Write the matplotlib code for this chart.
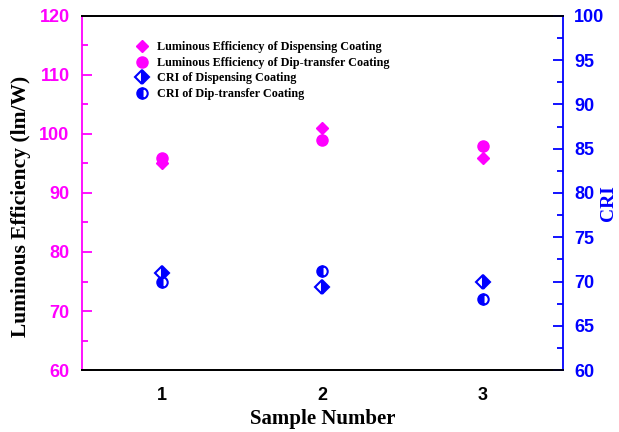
import matplotlib
matplotlib.use("Agg")
import matplotlib.pyplot as plt
from matplotlib.ticker import MultipleLocator

samples = [1, 2, 3]
le_dispensing = [95, 101, 96]
le_dip = [96, 99, 98]
cri_dispensing = [71, 69.4, 70]
cri_dip = [70, 71.2, 68]

MAG = "#ff00ff"
BLU = "#0000ff"
serif = "Liberation Serif"
sans = "Liberation Sans"

fig = plt.figure(figsize=(6.19, 4.32), dpi=100)
ax = fig.add_axes([0.1325, 0.1435, 0.777, 0.8195])
ax2 = ax.twinx()

h1, = ax.plot(samples, le_dispensing, ls="none", marker="D", ms=6.5, color=MAG,
              label="Luminous Efficiency of Dispensing Coating")
h2, = ax.plot(samples, le_dip, ls="none", marker="o", ms=8, color=MAG,
              label="Luminous Efficiency of Dip-transfer Coating")
h3, = ax2.plot(samples, cri_dispensing, ls="none", marker="D", ms=7, color=BLU,
               fillstyle="right", markerfacecoloralt="white", mew=1.5,
               label="CRI of Dispensing Coating")
h4, = ax2.plot(samples, cri_dip, ls="none", marker="o", ms=7.5, color=BLU,
               fillstyle="left", markerfacecoloralt="white", mew=1.5,
               label="CRI of Dip-transfer Coating")

ax.set_xlim(0.5, 3.5)
ax.set_ylim(60, 120)
ax2.set_ylim(60, 100)
ax.set_xticks(samples)
ax.yaxis.set_major_locator(MultipleLocator(10))
ax.yaxis.set_minor_locator(MultipleLocator(5))
ax2.yaxis.set_major_locator(MultipleLocator(5))
ax2.yaxis.set_minor_locator(MultipleLocator(2.5))

for a in (ax, ax2):
    for s in a.spines.values():
        s.set_linewidth(1.3)
ax.spines["left"].set_color(MAG)
ax2.spines["left"].set_visible(False)
ax2.spines["right"].set_color(BLU)
ax.spines["right"].set_visible(False)

ax.tick_params(axis="y", which="both", direction="in", colors=MAG, width=1.3, pad=9)
ax.tick_params(axis="y", which="major", length=7)
ax.tick_params(axis="y", which="minor", length=4)
ax.tick_params(axis="x", direction="in", length=0, width=1.3, pad=12)
ax2.tick_params(axis="y", which="both", direction="in", colors=BLU, width=1.3, pad=8)
ax2.tick_params(axis="y", which="major", length=7)
ax2.tick_params(axis="y", which="minor", length=4)

for lbl in ax.get_yticklabels():
    lbl.set_fontfamily(sans); lbl.set_fontweight("bold"); lbl.set_fontsize(13); lbl.set_color(MAG)
for lbl in ax2.get_yticklabels():
    lbl.set_fontfamily(sans); lbl.set_fontweight("bold"); lbl.set_fontsize(13); lbl.set_color(BLU)
for lbl in ax.get_xticklabels():
    lbl.set_fontfamily(sans); lbl.set_fontweight("bold"); lbl.set_fontsize(13)

ax.set_xlabel("Sample Number", fontfamily=serif, fontweight="bold", fontsize=15, labelpad=4)
ax.set_ylabel("Luminous Efficiency (lm/W)", fontfamily=serif, fontweight="bold", fontsize=15.5)
ax.yaxis.set_label_coords(-0.106, 0.462)
ax2.set_ylabel("CRI", fontfamily=serif, fontweight="bold", fontsize=14, color=BLU)
ax2.yaxis.set_label_coords(1.076, 0.472)

ax.legend(handles=[h1, h2, h3, h4], loc="upper left", bbox_to_anchor=(0.106, 0.929),
          frameon=False, prop={"family": serif, "weight": "bold", "size": 8.7},
          handlelength=1.5, handletextpad=0.5, labelspacing=0.3, borderaxespad=0,
          borderpad=0)

fig.savefig("out.png", dpi=100)
